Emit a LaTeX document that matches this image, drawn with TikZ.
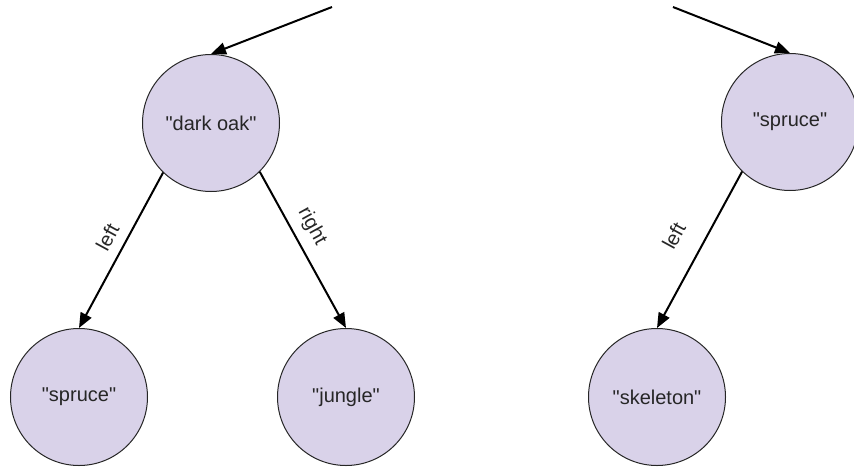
\documentclass[tikz,border=0pt]{standalone}
\usepackage{fontspec}
\setmainfont{Liberation Sans}
\usetikzlibrary{arrows.meta}
\definecolor{nodefill}{HTML}{D9D2E9}
\definecolor{txt}{HTML}{262626}
\newcommand{\qt}[1]{\textquotedbl#1\textquotedbl}
\begin{document}
\begin{tikzpicture}[x=1pt,y=-1pt,
  treenode/.style={circle, draw=black!85, line width=1pt, fill=nodefill, minimum size=137pt, inner sep=0pt, text=txt, font=\fontsize{20}{24}\selectfont},
  edge/.style={-{Triangle[length=15pt,width=12pt]}, line width=2pt},
  edgelabel/.style={sloped, font=\fontsize{20}{24}\selectfont, text=txt, inner sep=3pt}]
\useasboundingbox (0,0) rectangle (854,472);
\node[treenode] (darkoak) at (211,123) {\qt{dark oak}};
\node[treenode] (spruceR) at (790,122) {\qt{spruce}};
\node[treenode] (spruceL) at (79,397) {\qt{spruce}};
\node[treenode] (jungle) at (346,397) {\qt{jungle}};
\node[treenode] (skeleton) at (657,397) {\qt{skeleton}};
\coordinate (inL) at (332,7);
\coordinate (inR) at (673,7);
\draw[edge] (inL) -- (darkoak.north);
\draw[edge] (inR) -- (spruceR.north);
\draw[edge] (darkoak.226.7) -- node[edgelabel, pos=0.47, above=7pt] {left} (spruceL.north);
\draw[edge] (darkoak.315.6) -- node[edgelabel, pos=0.41, above=6pt] {right} (jungle.north);
\draw[edge] (spruceR.226.5) -- node[edgelabel, pos=0.5, above=18pt] {left} (skeleton.north);
\end{tikzpicture}
\end{document}
